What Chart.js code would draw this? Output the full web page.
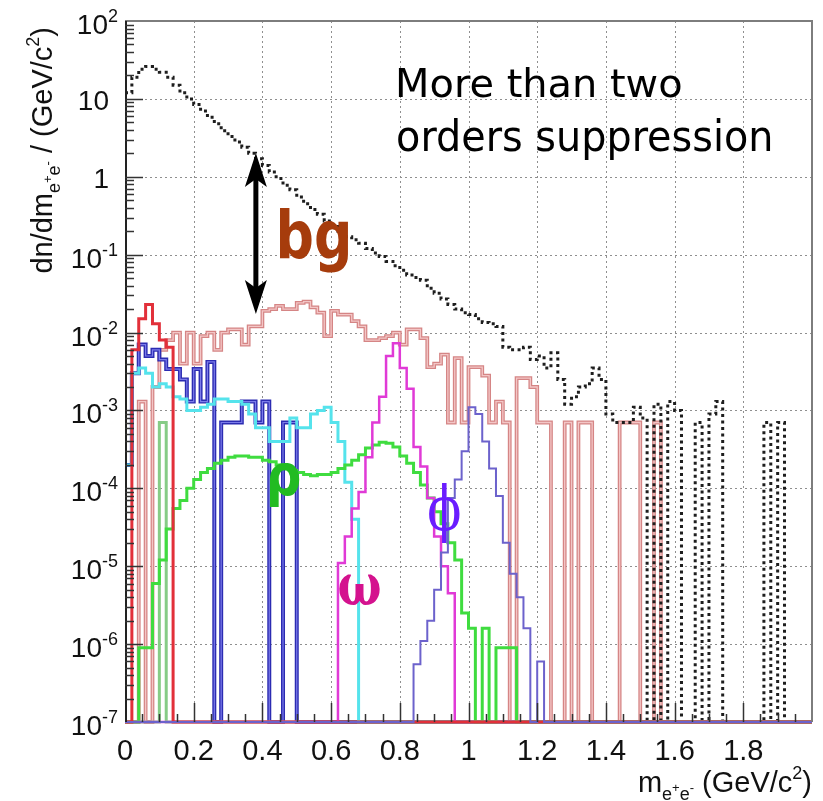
<!DOCTYPE html>
<html>
<head>
<meta charset="utf-8">
<title>e+e- invariant mass spectrum</title>
<script src="https://cdn.jsdelivr.net/npm/chart.js@4.4.1/dist/chart.umd.min.js"></script>
<style>
  html, body { margin: 0; padding: 0; background: #fff; }
  canvas { display: block; }
</style>
</head>
<body>
<canvas id="massChart" width="823" height="801"></canvas>
<script>
// histograms in bins of 0.02 GeV/c2 starting at 0; missing / 0 entries are empty bins
const binWidth = 0.02;
const nBins = 100;
const xTickValues = [0, 0.2, 0.4, 0.6, 0.8, 1, 1.2, 1.4, 1.6, 1.8];
const yDecades = [2, 1, 0, -1, -2, -3, -4, -5, -6, -7];

// black dotted: pairs before the cuts
const bgBefore = [
  12, 19, 24, 26, 24, 22, 19, 15, 12, 10,
  8.5, 7, 5.8, 4.8, 3.9, 3.3, 2.8, 2.4, 2.0, 1.7,
  1.4, 1.15, 0.95, 0.78, 0.68, 0.55, 0.45, 0.38, 0.33, 0.27,
  0.23, 0.2, 0.17, 0.155, 0.14, 0.12, 0.105, 0.095, 0.082, 0.072,
  0.063, 0.055, 0.051, 0.047, 0.037, 0.032, 0.027, 0.023, 0.02, 0.018,
  0.017, 0.015, 0.0135, 0.013, 0.012, 0.0065, 0.006, 0.006, 0.0065, 0.0045,
  0.005, 0.0035, 0.0055, 0.0025, 0.0012, 0.0015, 0.002, 0.0022, 0.0035, 0.0025,
  0.0009, 0.0007, 0.0007, 0.0007, 0.0011, 0.0008, 0, 0.0012, 0, 0.0013,
  0.001, 0, 0, 0.0007, 0, 0.0009, 0.0013, 0, 0, 0,
  0, 0, 0, 0.0007, 0, 0.0007
];
// rose: background after the cuts
const bgAfter = [
  0, 0, 0.0013, 0, 0.002, 0.006, 0.008, 0.01, 0.004, 0.01,
  0.004, 0.009, 0.01, 0.006, 0.01, 0.011, 0.011, 0.007, 0.012, 0.012,
  0.019, 0.02, 0.022, 0.02, 0.02, 0.024, 0.025, 0.021, 0.018, 0.009,
  0.019, 0.017, 0.017, 0.014, 0.012, 0.008, 0.008, 0.0085, 0.009, 0.01,
  0.007, 0.011, 0.011, 0.0085, 0.0036, 0.004, 0.0052, 0.0007, 0.0047, 0.0007,
  0.0036, 0.0036, 0.0028, 0.0007, 0.0013, 0.0007, 0, 0.0026, 0.0026, 0.002,
  0.0007, 0.0007, 0, 0, 0.0007, 0, 0.0007, 0.0007, 0, 0,
  0, 0, 0.0007, 0.0007, 0.0007, 0, 0, 0.0007
];
const redLow = [0, 0.006, 0.015, 0.023, 0.013, 0.008, 0.0065];
const blueLow = [
  0.0002, 0.003, 0.007, 0.005, 0.006, 0.0045, 0.0034, 0.0034, 0.0025, 0.0013,
  0.0034, 0.0013, 0.0042, 0, 0.0007, 0.0007, 0.0007, 0.0013, 0.0013, 0.0007,
  0.0013, 0, 0, 0.0007, 0.0007
];
const cyanLow = [
  0.0002, 0.003, 0.0035, 0.003, 0.002, 0.0022, 0.002, 0.0015, 0.0014, 0.001,
  0.001, 0.0011, 0.0012, 0.0014, 0.0014, 0.0013, 0.0013, 0.0012, 0.0009, 0.0006,
  0.0006, 0.0004, 0.0004, 0.0004, 0.0008, 0.0006, 0.0006, 0.0009, 0.001, 0.0011,
  0.0007, 0.0004, 0.00012, 0.00004
];
const rho = [
  0, 0, 9e-7, 9e-7, 6e-6, 1.2e-5, 3e-5, 5.5e-5, 7e-5, 1e-4,
  1.3e-4, 1.6e-4, 1.8e-4, 2.1e-4, 2.3e-4, 2.5e-4, 2.6e-4, 2.6e-4, 2.5e-4, 2.5e-4,
  2.3e-4, 2.2e-4, 2e-4, 1.9e-4, 1.7e-4, 1.6e-4, 1.5e-4, 1.45e-4, 1.5e-4, 1.5e-4,
  1.6e-4, 1.8e-4, 2e-4, 2.3e-4, 2.7e-4, 3.3e-4, 3.6e-4, 3.9e-4, 3.8e-4, 3.4e-4,
  2.6e-4, 2.1e-4, 1.6e-4, 1.1e-4, 7.5e-5, 5e-5, 3.5e-5, 2e-5, 1.2e-5, 2.5e-6,
  1.6e-6, 0, 1.6e-6, 0, 9e-7, 9e-7, 9e-7
];
const rhoSpike = [0, 0, 0, 0, 0, 7e-4];
const omega = [
  0, 0, 0, 0, 0, 0, 0, 0, 0, 0,
  0, 0, 0, 0, 0, 0, 0, 0, 0, 0,
  0, 0, 0, 0, 0, 0, 0, 0, 0, 0,
  0, 1.1e-5, 2.4e-5, 5.5e-5, 9e-5, 2.5e-4, 7e-4, 1.5e-3, 5e-3, 7.3e-3,
  3.5e-3, 1.9e-3, 3.4e-4, 1.9e-4, 7.5e-5, 2.4e-5, 1e-5, 4.5e-6
];
const phi = [
  0, 0, 0, 0, 0, 0, 0, 0, 0, 0,
  0, 0, 0, 0, 0, 0, 0, 0, 0, 0,
  0, 0, 0, 0, 0, 0, 0, 0, 0, 0,
  0, 0, 0, 0, 0, 0, 0, 0, 0, 0,
  0, 0, 5.5e-7, 1.1e-6, 2e-6, 5e-6, 1.5e-5, 7.5e-5, 1.3e-4, 3e-4,
  1.1e-3, 9e-4, 4e-4, 1.8e-4, 8e-5, 2e-5, 8e-6, 4e-6, 1.6e-6, 0,
  6e-7
];

// annotation boxes in data units (GeV/c2, dn/dm)
const noteLines = [
  { text: 'More than two', x0: 0.795, x1: 1.619, yTop: 25.7, yBot: 10.3 },
  { text: 'orders suppression', x0: 0.795, x1: 1.878, yTop: 5.69, yBot: 1.64 }
];
const greekLabels = [
  { text: 'bg', font: 'bold 60px "DejaVu Sans"', color: '#a63c0c', x0: 0.451, x1: 0.649, yTop: 0.409, yBot: 0.06 },
  { text: 'ρ', font: 'bold 60px "DejaVu Sans"', color: '#22bb22', x0: 0.422, x1: 0.509, yTop: 2.12e-4, yBot: 5.77e-5 },
  { text: 'ω', font: 'bold 60px "DejaVu Serif"', color: '#d4128e', x0: 0.623, x1: 0.742, yTop: 7.73e-6, yBot: 3.19e-6 },
  { text: 'ϕ', font: '60px "DejaVu Serif"', color: '#6a1cff', x0: 0.885, x1: 0.975, yTop: 1.21e-4, yBot: 2.05e-5 }
];
const arrowSpec = { x: 0.381, top: 2.02, bottom: 0.0173 };

const yFloor = 1e-7;
const axisFont = '"Liberation Sans", Arial, sans-serif';

const toSteps = (vals) => {
  const pts = [];
  for (let i = 0; i < nBins; i++) {
    const v = vals[i] > 0 ? vals[i] : yFloor;
    pts.push({ x: i * binWidth, y: v });
  }
  pts.push({ x: nBins * binWidth, y: pts[nBins - 1].y });
  return pts;
};

const hist = (vals, color, width, dash) => ({
  data: toSteps(vals),
  borderColor: color,
  borderWidth: width,
  borderDash: dash || [],
  stepped: true,
  pointRadius: 0,
  fill: false,
  borderCapStyle: 'butt',
  borderJoinStyle: 'miter',
  clip: { left: 0, top: 0, right: 0, bottom: 2 }
});

const drawRich = (ctx, parts, x, y, align) => {
  let w = 0;
  parts.forEach(p => { ctx.font = p.s + 'px ' + axisFont; w += ctx.measureText(p.t).width; });
  let cx = align === 'right' ? x - w : align === 'center' ? x - w / 2 : x;
  parts.forEach(p => {
    ctx.font = p.s + 'px ' + axisFont;
    ctx.fillText(p.t, cx, y + (p.dy || 0));
    cx += ctx.measureText(p.t).width;
  });
};

// fit a text's glyph box into a pixel rectangle
const drawInBox = (ctx, text, font, color, l, t, r, b) => {
  ctx.save();
  ctx.font = font;
  ctx.textAlign = 'left';
  ctx.textBaseline = 'alphabetic';
  const m = ctx.measureText(text);
  const gw = m.actualBoundingBoxLeft + m.actualBoundingBoxRight;
  const gh = m.actualBoundingBoxAscent + m.actualBoundingBoxDescent;
  ctx.translate(l, t);
  ctx.scale((r - l) / gw, (b - t) / gh);
  ctx.fillStyle = color;
  ctx.fillText(text, m.actualBoundingBoxLeft, m.actualBoundingBoxAscent);
  ctx.restore();
};

const framePlugin = {
  id: 'rootFrame',
  beforeDatasetsDraw(chart) {
    const { ctx, chartArea: a, scales: { x, y } } = chart;
    ctx.save();
    ctx.strokeStyle = '#8f8f8f';
    ctx.lineWidth = 1;
    ctx.setLineDash([2, 3]);
    xTickValues.forEach(v => {
      if (v === 0) return;
      const px = Math.round(x.getPixelForValue(v)) + 0.5;
      ctx.beginPath(); ctx.moveTo(px, a.top); ctx.lineTo(px, a.bottom); ctx.stroke();
    });
    yDecades.forEach(e => {
      if (e === 2 || e === -7) return;
      const py = Math.round(y.getPixelForValue(Math.pow(10, e))) + 0.5;
      ctx.beginPath(); ctx.moveTo(a.left, py); ctx.lineTo(a.right, py); ctx.stroke();
    });
    ctx.setLineDash([]);
    ctx.strokeStyle = '#7d7d7d';
    ctx.lineWidth = 2;
    ctx.beginPath(); ctx.moveTo(a.left, a.bottom); ctx.lineTo(a.right, a.bottom); ctx.stroke();
    ctx.restore();
  },
  afterDatasetsDraw(chart) {
    const { ctx, chartArea: a, scales: { x, y } } = chart;
    ctx.save();
    // frame
    ctx.strokeStyle = '#7d7d7d';
    ctx.lineWidth = 2;
    ctx.beginPath();
    ctx.moveTo(a.left, a.top); ctx.lineTo(a.right, a.top); ctx.lineTo(a.right, a.bottom);
    ctx.stroke();
    ctx.strokeStyle = '#222';
    ctx.beginPath(); ctx.moveTo(a.left + 1, a.top); ctx.lineTo(a.left + 1, a.bottom); ctx.stroke();

    // ticks
    ctx.strokeStyle = '#333';
    ctx.lineWidth = 1.5;
    for (let e = -7; e < 2; e++) {
      for (let k = 1; k < 10; k++) {
        if (e === -7 && k === 1) continue;
        const py = Math.round(y.getPixelForValue(k * Math.pow(10, e))) + 0.5;
        const len = k === 1 ? 18 : 9;
        ctx.beginPath(); ctx.moveTo(a.left, py); ctx.lineTo(a.left + len, py); ctx.stroke();
      }
    }
    for (let j = 1; j < 40; j++) {
      const px = Math.round(x.getPixelForValue(j * 0.05)) + 0.5;
      const len = j % 4 === 0 ? 19 : 8;
      ctx.beginPath(); ctx.moveTo(px, a.bottom); ctx.lineTo(px, a.bottom - len); ctx.stroke();
    }

    // tick labels
    ctx.fillStyle = '#111';
    ctx.textBaseline = 'alphabetic';
    ctx.textAlign = 'left';
    yDecades.forEach(e => {
      const py = y.getPixelForValue(Math.pow(10, e));
      if (e === 1) drawRich(ctx, [{ t: '10', s: 28 }], a.left - 16, py + 11, 'right');
      else if (e === 0) drawRich(ctx, [{ t: '1', s: 28 }], a.left - 16, py + 11, 'right');
      else drawRich(ctx, [{ t: '10', s: 28 }, { t: String(e), s: 18, dy: -12 }], a.left - 7, py + 13, 'right');
    });
    xTickValues.forEach(v => {
      const px = x.getPixelForValue(v);
      drawRich(ctx, [{ t: String(v), s: 29 }], px, a.bottom + 38, 'center');
    });

    // axis titles
    drawRich(ctx, [
      { t: 'm', s: 29 }, { t: 'e', s: 18, dy: 8 }, { t: '+', s: 13, dy: 0 },
      { t: 'e', s: 18, dy: 8 }, { t: '-', s: 13, dy: 0 },
      { t: ' (GeV/c', s: 29 }, { t: '2', s: 18, dy: -13 }, { t: ')', s: 29 }
    ], a.right, a.bottom + 70, 'right');
    ctx.save();
    ctx.translate(52, a.top + 6);
    ctx.rotate(-Math.PI / 2);
    drawRich(ctx, [
      { t: 'dn/dm', s: 29 }, { t: 'e', s: 18, dy: 8 }, { t: '+', s: 13, dy: 0 },
      { t: 'e', s: 18, dy: 8 }, { t: '-', s: 13, dy: 0 },
      { t: ' / (GeV/c', s: 29 }, { t: '2', s: 18, dy: -13 }, { t: ')', s: 29 }
    ], 0, 0, 'right');
    ctx.restore();

    // annotations
    noteLines.forEach(n => {
      drawInBox(ctx, n.text, '40px "DejaVu Sans"', '#000',
        x.getPixelForValue(n.x0), y.getPixelForValue(n.yTop),
        x.getPixelForValue(n.x1), y.getPixelForValue(n.yBot));
    });
    greekLabels.forEach(g => {
      drawInBox(ctx, g.text, g.font, g.color,
        x.getPixelForValue(g.x0), y.getPixelForValue(g.yTop),
        x.getPixelForValue(g.x1), y.getPixelForValue(g.yBot));
    });

    // double arrow
    const ax = x.getPixelForValue(arrowSpec.x);
    const t = y.getPixelForValue(arrowSpec.top);
    const b = y.getPixelForValue(arrowSpec.bottom);
    const hl = 34, hw = 11, notch = 26;
    ctx.fillStyle = '#000';
    ctx.strokeStyle = '#000';
    ctx.lineWidth = 5;
    ctx.beginPath(); ctx.moveTo(ax, t + notch - 2); ctx.lineTo(ax, b - notch + 2); ctx.stroke();
    ctx.beginPath();
    ctx.moveTo(ax, t); ctx.lineTo(ax + hw, t + hl); ctx.lineTo(ax, t + notch); ctx.lineTo(ax - hw, t + hl);
    ctx.closePath(); ctx.fill();
    ctx.beginPath();
    ctx.moveTo(ax, b); ctx.lineTo(ax + hw, b - hl); ctx.lineTo(ax, b - notch); ctx.lineTo(ax - hw, b - hl);
    ctx.closePath(); ctx.fill();
    ctx.restore();
  }
};

new Chart(document.getElementById('massChart'), {
  type: 'line',
  data: {
    datasets: [
      hist(phi, '#6c62cc', 2),
      hist(redLow, '#e2303a', 3),
      hist(omega, '#e03ad6', 2.5),
      hist(rho, '#3fdc3f', 3),
      hist(rhoSpike, '#86cc86', 3),
      hist(cyanLow, '#55e3ec', 3),
      hist(blueLow, '#7c7cea', 1.2),
      hist(blueLow, '#2c2cb2', 4),
      hist(bgBefore, '#1e1e1e', 3, [3, 3.5]),
      hist(bgAfter, '#f3c6c6', 1.3),
      hist(bgAfter, '#d58585', 3.8)
    ]
  },
  options: {
    responsive: false,
    animation: false,
    parsing: false,
    normalized: true,
    layout: { padding: { left: 125, top: 21, right: 11, bottom: 79 } },
    plugins: { legend: { display: false }, tooltip: { enabled: false } },
    scales: {
      x: { type: 'linear', min: 0, max: 2, display: false },
      y: { type: 'logarithmic', min: yFloor, max: 100, display: false }
    }
  },
  plugins: [framePlugin]
});
</script>
</body>
</html>
